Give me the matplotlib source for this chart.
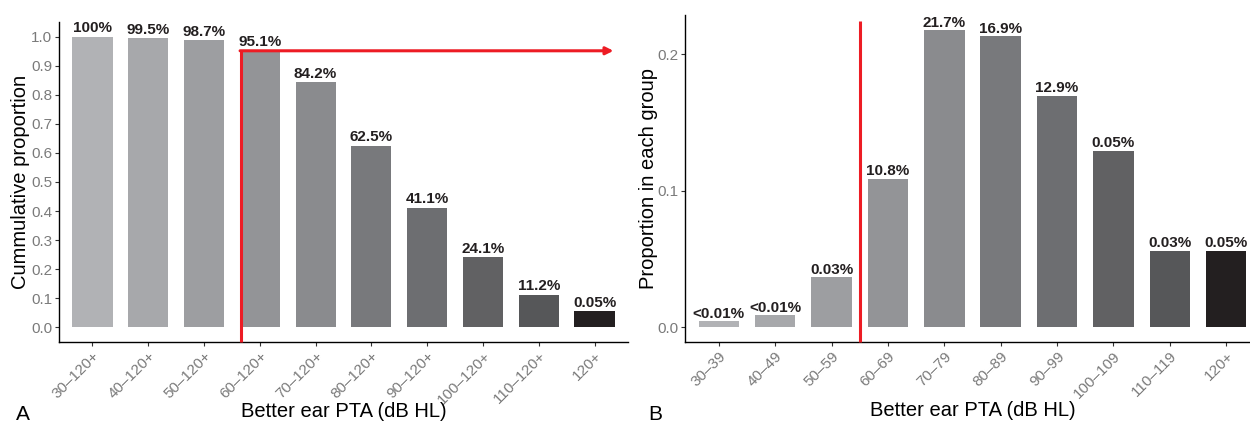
import matplotlib
matplotlib.use("Agg")
import matplotlib.pyplot as plt
import numpy as np
from matplotlib.ticker import FormatStrFormatter

plt.rcParams['font.family'] = ['Liberation Sans', 'DejaVu Sans']

# ---- data ----
cum_categories = ["30–120+", "40–120+", "50–120+", "60–120+", "70–120+",
                  "80–120+", "90–120+", "100–120+", "110–120+", "120+"]
cum_values = [1.0, 0.995, 0.987, 0.951, 0.842, 0.625, 0.411, 0.241, 0.112, 0.056]
cum_labels = ["100%", "99.5%", "98.7%", "95.1%", "84.2%", "62.5%",
              "41.1%", "24.1%", "11.2%", "0.05%"]

grp_categories = ["30–39", "40–49", "50–59", "60–69", "70–79",
                  "80–89", "90–99", "100–109", "110–119", "120+"]
grp_values = [0.0042, 0.0086, 0.0366, 0.1088, 0.2178, 0.2134, 0.1695, 0.1293, 0.0561, 0.0561]
grp_labels = ["<0.01%", "<0.01%", "0.03%", "10.8%", "21.7%", "16.9%",
              "12.9%", "0.05%", "0.03%", "0.05%"]

bar_colors = ["#B1B2B5", "#A7A8AB", "#9D9EA1", "#939497", "#8A8B8E",
              "#78797C", "#6D6E71", "#616163", "#565759", "#231F20"]

cutoff_index = 3  # 60 dB HL threshold
red = "#ED1C24"
text_dark = "#231F20"
tick_gray = "#7A7A7A"

fig = plt.figure(figsize=(12.5, 4.22), dpi=100)
axA = fig.add_axes([0.0472, 0.1896, 0.4552, 0.7583])
axB = fig.add_axes([0.548, 0.1896, 0.46, 0.7749])


def style(ax):
    for s in ["top", "right"]:
        ax.spines[s].set_visible(False)
    for s in ["left", "bottom"]:
        ax.spines[s].set_linewidth(1.0)
        ax.spines[s].set_color("black")
    ax.tick_params(axis="both", length=3, width=0.8, color="#333333",
                   labelcolor=tick_gray, labelsize=11, pad=2)


# ---- Panel A ----
style(axA)
xA = np.arange(len(cum_categories))
axA.bar(xA, cum_values, width=0.72, color=bar_colors)
for xi, v, t in zip(xA, cum_values, cum_labels):
    axA.annotate(t, (xi, v), xytext=(0, 3.2), textcoords="offset points",
                 ha="center", va="baseline", fontsize=11, fontweight="bold",
                 color=text_dark)
axA.set_xlim(-0.6, len(xA) - 0.4)
axA.set_ylim(-0.05, 1.05)
axA.set_yticks(np.arange(0, 1.01, 0.1))
axA.yaxis.set_major_formatter(FormatStrFormatter("%.1f"))
axA.set_xticks(xA)
axA.set_xticklabels(cum_categories, rotation=45, ha="right", va="top",
                    rotation_mode="anchor")
axA.set_xlabel("Better ear PTA (dB HL)", fontsize=14.5)
axA.xaxis.set_label_coords(0.5, -0.216)
axA.xaxis.label.set_va("center")
axA.set_ylabel("Cummulative proportion", fontsize=14.5)
axA.yaxis.set_label_coords(-0.068, 0.5)
axA.yaxis.label.set_va("center")

# red threshold line with arrow
x_line = cutoff_index - 0.334
y_top = cum_values[cutoff_index]
axA.plot([x_line, x_line], [-0.05, y_top], color=red, lw=2.2,
         clip_on=False, solid_capstyle="butt", zorder=5)
axA.annotate("", xy=(len(xA) - 1 + 0.34, y_top), xytext=(x_line - 0.02, y_top),
             arrowprops=dict(arrowstyle="-|>", color=red, lw=2.2,
                             mutation_scale=11, shrinkA=0, shrinkB=0),
             zorder=5)

# ---- Panel B ----
style(axB)
xB = np.arange(len(grp_categories))
axB.bar(xB, grp_values, width=0.72, color=bar_colors)
for xi, v, t in zip(xB, grp_values, grp_labels):
    axB.annotate(t, (xi, v), xytext=(0, 2.4), textcoords="offset points",
                 ha="center", va="baseline", fontsize=11, fontweight="bold",
                 color=text_dark)
axB.set_xlim(-0.6, len(xB) - 0.4)
axB.set_ylim(-0.0109, 0.2287)
axB.set_yticks([0.0, 0.1, 0.2])
axB.yaxis.set_major_formatter(FormatStrFormatter("%.1f"))
axB.set_xticks(xB)
axB.set_xticklabels(grp_categories, rotation=45, ha="right", va="top",
                    rotation_mode="anchor")
axB.set_xlabel("Better ear PTA (dB HL)", fontsize=14.5)
axB.xaxis.set_label_coords(0.5, -0.211)
axB.xaxis.label.set_va("center")
axB.set_ylabel("Proportion in each group", fontsize=14.5)
axB.yaxis.set_label_coords(-0.064, 0.5)
axB.yaxis.label.set_va("center")
axB.plot([cutoff_index - 0.5, cutoff_index - 0.5], [-0.0109, 0.2245],
         color=red, lw=2.2, clip_on=False, solid_capstyle="butt", zorder=5)

# panel letters
fig.text(16 / 1250, 1 - 414 / 422, "A", fontsize=15, ha="left", va="center")
fig.text(648 / 1250, 1 - 414 / 422, "B", fontsize=15, ha="left", va="center")

fig.savefig("out.png", dpi=100)
